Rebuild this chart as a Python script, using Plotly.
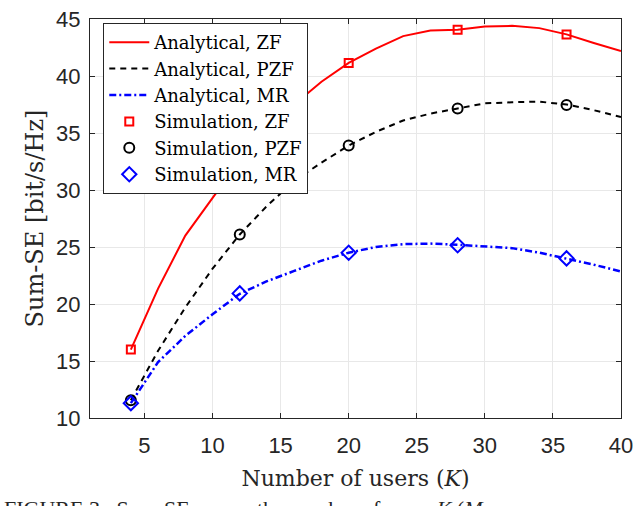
import plotly.graph_objects as go

# Analytical curves (K = 4, 6, ..., 40)
K_curve = [4, 6, 8, 10, 12, 14, 16, 18, 20, 22, 24, 26, 28, 30, 32, 34, 36, 38, 40]
zf_curve = [16.0, 21.35, 26.0, 29.3, 32.6, 35.3, 37.5, 39.5, 41.15, 42.4, 43.5, 44.0,
            44.05, 44.35, 44.4, 44.2, 43.65, 42.9, 42.2]
pzf_curve = [11.56, 15.9, 19.7, 23.1, 26.1, 28.6, 30.8, 32.4, 33.9, 35.1, 36.1, 36.7,
             37.15, 37.6, 37.7, 37.75, 37.5, 37.0, 36.4]
mr_curve = [11.3, 14.9, 17.2, 19.1, 20.9, 22.0, 22.9, 23.8, 24.5, 25.0, 25.25, 25.3,
            25.2, 25.05, 24.9, 24.5, 24.0, 23.45, 22.85]

# Simulation points
K_sim = [4, 12, 20, 28, 36]
zf_sim = [16.0, 32.6, 41.15, 44.05, 43.65]
pzf_sim = [11.56, 26.1, 33.9, 37.15, 37.45]
mr_sim = [11.3, 20.93, 24.5, 25.15, 24.0]

x_ticks = [5, 10, 15, 20, 25, 30, 35, 40]
y_ticks = [10, 15, 20, 25, 30, 35, 40, 45]

serif = "DejaVu Serif"
sans = "Liberation Sans"
axis_col = "#262626"

fig = go.Figure()

fig.add_trace(go.Scatter(x=K_curve, y=zf_curve, mode="lines", name="Analytical, ZF",
                         line=dict(color="#ff0000", width=2)))
fig.add_trace(go.Scatter(x=K_curve, y=pzf_curve, mode="lines", name="Analytical, PZF",
                         line=dict(color="black", width=2, dash="6px,5px")))
fig.add_trace(go.Scatter(x=K_curve, y=mr_curve, mode="lines", name="Analytical, MR",
                         line=dict(color="#0000ff", width=2.5, dash="7px,3px,2px,3px")))
fig.add_trace(go.Scatter(x=K_sim, y=zf_sim, mode="markers", name="Simulation, ZF",
                         marker=dict(symbol="square-open", size=8, color="#ff0000",
                                     line=dict(width=2))))
fig.add_trace(go.Scatter(x=K_sim, y=pzf_sim, mode="markers", name="Simulation, PZF",
                         marker=dict(symbol="circle-open", size=10, color="black",
                                     line=dict(width=2))))
fig.add_trace(go.Scatter(x=K_sim, y=mr_sim, mode="markers", name="Simulation, MR",
                         marker=dict(symbol="diamond-open", size=11, color="#0000ff",
                                     line=dict(width=2))))

axis_style = dict(
    showline=True, linecolor=axis_col, linewidth=1, mirror="ticks",
    ticks="inside", ticklen=5, tickcolor=axis_col,
    showgrid=True, gridcolor="#e8e8e8", gridwidth=1,
    zeroline=False, ticklabeloverflow="allow",
    tickfont=dict(family=sans, size=22, color=axis_col),
)

fig.update_xaxes(range=[1, 40], tickvals=x_ticks, ticklabelstandoff=8,
                 title=dict(text="Number of users (<i>K</i>)",
                            font=dict(family=serif, size=22, color=axis_col), standoff=13),
                 **axis_style)
fig.update_yaxes(range=[10, 45], tickvals=y_ticks, ticklabelstandoff=4,
                 title=dict(text="Sum-SE [bit/s/Hz]",
                            font=dict(family=serif, size=24, color=axis_col), standoff=5),
                 **axis_style)

fig.add_annotation(text="FIGURE 3.  Sum-SE versus the number of users <i>K</i> (<i>M</i>",
                   xref="paper", yref="paper", x=-0.165, y=-0.19, xanchor="left",
                   yanchor="top", showarrow=False,
                   font=dict(family="Liberation Serif", size=22, color=axis_col))

fig.update_layout(
    width=640, height=506,
    margin=dict(l=90, r=14, t=7, b=88),
    paper_bgcolor="white", plot_bgcolor="white",
    showlegend=True,
    legend=dict(x=0.025, y=0.99, xanchor="left", yanchor="top",
                bgcolor="white", bordercolor=axis_col, borderwidth=1,
                font=dict(family=serif, size=18, color="black"),
                tracegroupgap=0, itemwidth=40),
)

# the page body has a default 8px margin; drop it so the figure sits at the corner
fig.write_html("out.html", config={"displayModeBar": False},
               post_script="document.body.style.margin='0px';")
